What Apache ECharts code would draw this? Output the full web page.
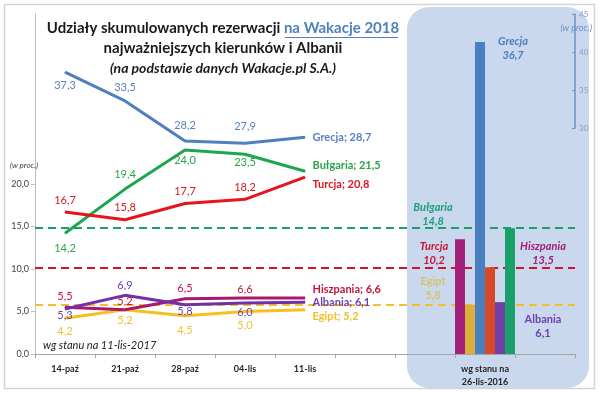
<!DOCTYPE html>
<html><head><meta charset="utf-8">
<script src="https://cdn.jsdelivr.net/npm/echarts@6/dist/echarts.min.js"></script>
<style>html,body{margin:0;padding:0;background:#fff}#c{width:600px;height:393px}</style>
</head><body><div id="c"></div>
<script>
// ---- data ----
const categories = ['14-paź','21-paź','28-paź','04-lis','11-lis','','','wg stanu na\n26-lis-2016',''];
const grecja    = [37.3, 33.5, 28.2, 27.9, 28.7];
const bulgaria  = [14.2, 19.4, 24.0, 23.5, 21.5];
const turcja    = [16.7, 15.8, 17.7, 18.2, 20.8];
const hiszpania = [5.5, 5.2, 6.5, 6.6, 6.6];
const albania   = [5.3, 6.9, 5.8, 6.0, 6.1];
const egipt     = [4.2, 5.2, 4.5, 5.0, 5.2];
const barNames  = ['Hiszpania','Egipt','Grecja','Turcja','Albania','Bułgaria'];
const barValues = [13.5, 5.8, 36.7, 10.2, 6.1, 14.8];
const barCategoryIndex = 7;
const leftTicks  = [0, 5, 10, 15, 20];
const rightTicks = [30, 35, 40, 45];

// ---- styles ----
const FONT = 'Lato, "Open Sans", sans-serif';
function fmt(v){ return v.toFixed(1).replace('.', ','); }

function lineSeries(name, data, color, labelColor, positions, distances, endOffset, yAxisIndex, z){
  return {
    type: 'line', name: name, yAxisIndex: yAxisIndex, z: z,
    symbol: 'circle', symbolSize: 1, showSymbol: true,
    lineStyle: { width: 3, color: color }, itemStyle: { color: color },
    label: { show: true, color: labelColor, fontSize: 11, fontFamily: FONT, distance: 4,
             formatter: p => fmt(p.value) },
    data: data.map((v, i) => ({
      value: v,
      label: i === data.length - 1
        ? { position: 'right', distance: 7, offset: endOffset, fontWeight: 'bold',
            formatter: name + '; ' + fmt(v) }
        : { position: positions[i], distance: distances[i] }
    }))
  };
}

const barColors      = ['#a3207a', '#dcae3c', '#4a80c0', '#d9482b', '#7040a8', '#1aa06a'];
const barLabelColors = ['#a0207a', '#d4c46c', '#4a7fc0', '#c8143c', '#7040b0', '#1a9e78'];
const barLabelPos    = [[88, 14], [-32, -16], [38, 6], [-51, -14], [48, 24], [-72, -14]];
const barLabelItalic = [true, false, true, true, false, true];
const dashColors     = { 'Egipt': '#f0c030', 'Turcja': '#d61030', 'Bułgaria': '#1aa06a' };

const barSeries = barNames.map((n, k) => {
  const s = {
    type: 'bar', name: n + ' 2016', yAxisIndex: 0, z: 4,
    barGap: '0%', barCategoryGap: '0%',
    itemStyle: { color: barColors[k] },
    data: categories.map((c, i) => i === barCategoryIndex ? barValues[k] : '-'),
    label: { show: true, position: barLabelPos[k], align: 'center', verticalAlign: 'middle',
             color: barLabelColors[k], fontSize: 11, lineHeight: 14, fontFamily: FONT,
             fontWeight: 'bold', fontStyle: barLabelItalic[k] ? 'italic' : 'normal',
             formatter: p => n + '\n' + fmt(p.value) }
  };
  if (dashColors[n]) {
    s.markLine = { symbol: 'none', silent: true, label: { show: false }, z: 1,
      lineStyle: { type: [8, 5], width: 2, color: dashColors[n] },
      data: [{ yAxis: barValues[k] }] };
  }
  return s;
});

const chart = echarts.init(document.getElementById('c'), null, { renderer: 'canvas' });
chart.setOption({
  animation: false,
  backgroundColor: '#ffffff',
  textStyle: { fontFamily: FONT },
  grid: [
    { left: 35, right: 25, top: 14, bottom: 39 },
    { left: 35, right: 25, top: 14, bottom: 265 }
  ],
  xAxis: [
    { type: 'category', gridIndex: 0, data: categories, boundaryGap: true,
      axisLine: { lineStyle: { color: '#a6a6a6', width: 1 } },
      axisTick: { show: true, length: 4, lineStyle: { color: '#a6a6a6' } },
      axisLabel: { interval: 0, fontSize: 9, fontWeight: 'bold', color: '#262626', margin: 9,
                   lineHeight: 13, fontFamily: FONT } },
    { type: 'category', gridIndex: 1, data: categories, show: false }
  ],
  yAxis: [
    { type: 'value', gridIndex: 0, min: 0, max: 40, interval: 5,
      axisLine: { show: true, lineStyle: { color: '#bfbfbf' } },
      axisTick: { show: true, length: 4, customValues: leftTicks, lineStyle: { color: '#bfbfbf' } },
      axisLabel: { customValues: leftTicks, formatter: v => fmt(v), fontSize: 9, color: '#404040',
                   margin: 6, fontFamily: FONT },
      splitLine: { show: false } },
    { type: 'value', gridIndex: 0, min: 0, max: 45, show: false, splitLine: { show: false } },
    { type: 'value', gridIndex: 1, min: 30, max: 45, interval: 5, position: 'right',
      axisLine: { show: true, lineStyle: { color: '#6d93c7', width: 1.5 } },
      axisTick: { show: true, length: 3, inside: true, customValues: rightTicks, lineStyle: { color: '#6d93c7' } },
      axisLabel: { customValues: rightTicks, fontSize: 8, color: '#7f9fcf', margin: 4, fontFamily: FONT },
      splitLine: { show: false } }
  ],
  series: [
    lineSeries('Grecja', grecja, '#4f7fbf', '#5a80bf', ['bottom','top','top','top'], [7,7,9,11], [0, 0], 1, 3),
    lineSeries('Bułgaria', bulgaria, '#1fa64f', '#2aa34a', ['bottom','top','bottom','bottom'], [9,9,4,2], [0, -6], 0, 3),
    lineSeries('Turcja', turcja, '#e8141c', '#d9181e', ['top','top','top','top'], [6,6,6,6], [0, 7], 0, 3),
    lineSeries('Egipt', egipt, '#f5c020', '#f0c030', ['bottom','bottom','bottom','bottom'], [7,5,9,8], [0, 7], 0, 3),
    lineSeries('Hiszpania', hiszpania, '#a8186e', '#c0143c', ['top','top','top','top'], [5,2,4,2], [0, -8], 0, 3),
    lineSeries('Albania', albania, '#7030a8', '#7040b0', ['bottom','top','bottom','bottom'], [1,4,1,3], [0, 0], 0, 3)
  ].concat(barSeries),
  graphic: [
    { type: 'rect', z: -10, silent: true, shape: { x: 407, y: 7, width: 182, height: 381, r: 22 },
      style: { fill: '#c9d8ec' } },
    { type: 'rect', z: 10, silent: true, shape: { x: 4.5, y: 4.5, width: 590, height: 384 },
      style: { fill: 'none', stroke: '#d4d4d4', lineWidth: 1.5 } },
    { type: 'text', z: 10, x: 223, y: 28,
      style: { text: '{a|Udziały skumulowanych rezerwacji }{b|na Wakacje 2018}', align: 'center', verticalAlign: 'middle',
        rich: { a: { fontSize: 15, fontWeight: 'bold', fill: '#1a1a1a', fontFamily: FONT },
                b: { fontSize: 15, fontWeight: 'bold', fill: '#4f81bd', fontFamily: FONT } } } },
    { type: 'line', z: 10, silent: true, shape: { x1: 285, y1: 37.5, x2: 398, y2: 37.5 },
      style: { stroke: '#4f81bd', lineWidth: 1 } },
    { type: 'text', z: 10, x: 223, y: 48,
      style: { text: 'najważniejszych kierunków i Albanii', align: 'center', verticalAlign: 'middle',
        fontSize: 15, fontWeight: 'bold', fill: '#1a1a1a', fontFamily: FONT } },
    { type: 'text', z: 10, x: 223, y: 68,
      style: { text: '(na podstawie danych Wakacje.pl S.A.)', align: 'center', verticalAlign: 'middle',
        fontSize: 14, fontWeight: 'bold', fontStyle: 'italic', fill: '#1a1a1a', fontFamily: FONT } },
    { type: 'text', z: 10, x: 10, y: 165,
      style: { text: '(w proc.)', align: 'left', verticalAlign: 'middle',
        fontSize: 8, fontStyle: 'italic', fill: '#404040', fontFamily: FONT } },
    { type: 'text', z: 10, x: 592, y: 28,
      style: { text: '(w proc.)', align: 'right', verticalAlign: 'middle',
        fontSize: 9, fontStyle: 'italic', fill: '#6f8fc4', fontFamily: FONT } },
    { type: 'text', z: 10, x: 43, y: 345,
      style: { text: 'wg stanu na 11-lis-2017', align: 'left', verticalAlign: 'middle',
        fontSize: 11, fontStyle: 'italic', fill: '#222222', fontFamily: FONT } }
  ]
});
</script></body></html>
